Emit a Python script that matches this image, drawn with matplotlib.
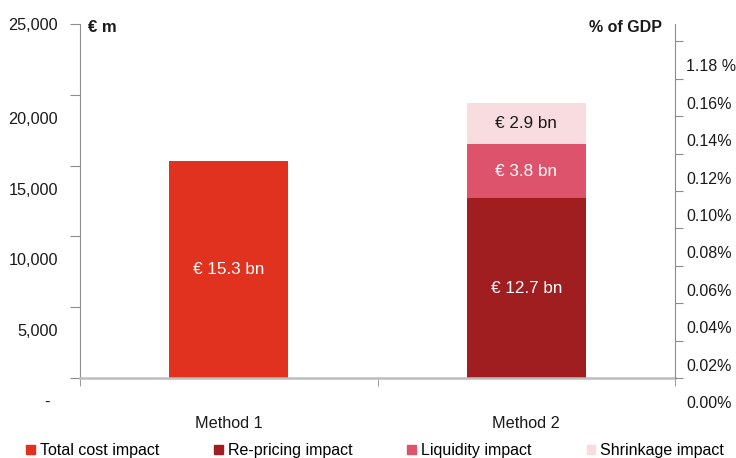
import matplotlib
matplotlib.use('Agg')
import matplotlib.pyplot as plt
import matplotlib.transforms as mtransforms
from matplotlib.patches import Patch

plt.rcParams['font.family'] = ['Liberation Sans', 'DejaVu Sans']

# data (EUR m)
categories = ['Method 1', 'Method 2']
total_cost = [15300, 0]
repricing = [0, 12700]
liquidity = [0, 3800]
shrinkage = [0, 2900]
seg_labels_m1 = ['€ 15.3 bn']
seg_labels_m2 = ['€ 12.7 bn', '€ 3.8 bn', '€ 2.9 bn']

left_ticks = [0, 5000, 10000, 15000, 20000, 25000]
left_ticklabels = ['-', '5,000', '10,000', '15,000', '20,000', '25,000']
right_ticks = [0.00, 0.02, 0.04, 0.06, 0.08, 0.10, 0.12, 0.14, 0.16, 0.18]
right_ticklabels = ['0.00%', '0.02%', '0.04%', '0.06%', '0.08%', '0.10%',
                    '0.12%', '0.14%', '0.16%', '1.18 %']

c_total = '#E0321F'
c_repr = '#A01E20'
c_liq = '#DD536B'
c_shr = '#F8DCE0'
txt = '#1a1a1a'

fig = plt.figure(figsize=(7.36, 4.58), dpi=100)
ax = fig.add_axes([80/736, 80/458, 595/736, 354/458])

x = [0, 1]
w = 0.4
ax.bar(x, total_cost, w, color=c_total)
ax.bar(x, repricing, w, color=c_repr)
b2 = [r for r in repricing]
ax.bar(x, liquidity, w, bottom=b2, color=c_liq)
b3 = [r + l for r, l in zip(repricing, liquidity)]
ax.bar(x, shrinkage, w, bottom=b3, color=c_shr)

# segment labels
fs_bar = 12.3
ax.text(0, total_cost[0] / 2, seg_labels_m1[0], ha='center', va='center',
        color='white', fontsize=fs_bar)
ax.text(1, repricing[1] / 2, seg_labels_m2[0], ha='center', va='center',
        color='white', fontsize=fs_bar)
ax.text(1, repricing[1] + liquidity[1] / 2, seg_labels_m2[1], ha='center',
        va='center', color='white', fontsize=fs_bar)
ax.text(1, b3[1] + shrinkage[1] / 2, seg_labels_m2[2], ha='center',
        va='center', color=txt, fontsize=fs_bar)

ax.set_xlim(-0.5, 1.5)
ax.set_ylim(0, 25000)

ax.spines['top'].set_visible(False)
ax.spines['right'].set_visible(False)
ax.spines['left'].set_color('#8c8c8c')
ax.spines['bottom'].set_color('#bdbdbd')
ax.spines['bottom'].set_linewidth(1.8)

ax.set_xticks(x)
ax.set_xticklabels(categories)
ax.set_xticks([-0.5, 0.5, 1.5], minor=True)
ax.tick_params(axis='x', which='major', length=0, pad=27, labelsize=11.7,
               labelcolor=txt)
ax.tick_params(axis='x', which='minor', length=6, color='#8c8c8c',
               direction='out')

ax.set_yticks(left_ticks)
ax.set_yticklabels(left_ticklabels)
ax.tick_params(axis='y', length=7, color='#8c8c8c', pad=9, labelsize=11.7,
               labelcolor=txt)
# labels in the original sit below their tick marks
for lab in ax.get_yticklabels():
    if lab.get_text() != '25,000':
        off = mtransforms.ScaledTranslation(0, -23/100, fig.dpi_scale_trans)
        lab.set_transform(lab.get_transform() + off)
    if lab.get_text() == '-':
        off = mtransforms.ScaledTranslation(-8/100, 0, fig.dpi_scale_trans)
        lab.set_transform(lab.get_transform() + off)

ax2 = ax.twinx()
ax2.set_ylim(0, 0.1893)
ax2.set_yticks(right_ticks)
ax2.set_yticklabels(right_ticklabels)
ax2.tick_params(axis='y', length=6, color='#8c8c8c', pad=2, labelsize=11.5,
                labelcolor=txt)
for s in ['top', 'left', 'bottom']:
    ax2.spines[s].set_visible(False)
ax2.spines['right'].set_color('#8c8c8c')
for lab in ax2.get_yticklabels():
    off = mtransforms.ScaledTranslation(0, -24/100, fig.dpi_scale_trans)
    lab.set_transform(lab.get_transform() + off)

fig.text(88/736, 1 - 28/458, '€ m', fontsize=12, fontweight='bold',
         color=txt, ha='left', va='center')
fig.text(662/736, 1 - 27/458, '% of GDP', fontsize=11.5, fontweight='bold',
         color=txt, ha='right', va='center')

handles = [Patch(color=c_total), Patch(color=c_repr), Patch(color=c_liq),
           Patch(color=c_shr)]
names = ['Total cost impact', 'Re-pricing impact', 'Liquidity impact',
         'Shrinkage impact']
fig.legend(handles, names, ncol=4, loc='center left',
           bbox_to_anchor=(26/736, 7.5/458), frameon=False, fontsize=11.5,
           handlelength=0.55, handleheight=0.55, handletextpad=0.3,
           columnspacing=3.45, borderpad=0, borderaxespad=0)

fig.savefig('out.png', dpi=100)
